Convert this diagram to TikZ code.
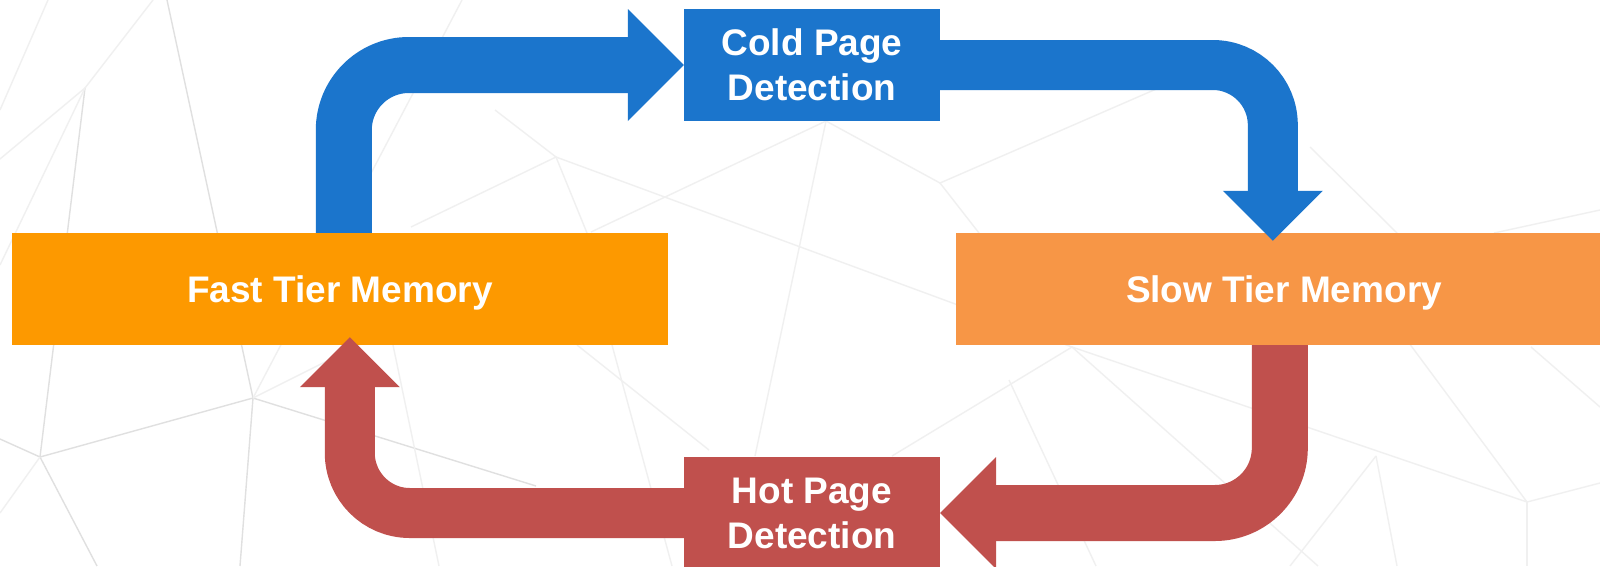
\documentclass[tikz,border=0pt]{standalone}
\usepackage{fontspec}
\setmainfont{Liberation Sans}
\usetikzlibrary{calc}
\definecolor{cblue}{RGB}{27,117,204}
\definecolor{cfast}{RGB}{253,153,0}
\definecolor{cslow}{RGB}{247,150,70}
\definecolor{cred}{RGB}{192,80,77}
\definecolor{bgA}{RGB}{224,224,224}
\definecolor{bgB}{RGB}{240,240,240}
\tikzset{
  lbl/.style={text=white, font=\bfseries\fontsize{37}{45}\selectfont, align=center, inner sep=0pt, text depth=0pt},
  membox/.style={lbl, rectangle, minimum width=656pt, minimum height=112pt},
  detbox/.style={lbl, rectangle, minimum width=256pt, minimum height=112pt},
  bgline/.style={draw=bgA, line width=1.4pt},
  bglight/.style={draw=bgB, line width=1.4pt},
  wideband/.style={line width=56pt, rounded corners=65pt},
  narrowband/.style={line width=50pt, rounded corners=60pt},
}
\begin{document}
\begin{tikzpicture}[x=1pt,y=-1pt]
\useasboundingbox (0,0) rectangle (1600,566);
\clip (0,0) rectangle (1600,566);
\fill[white] (0,0) rectangle (1600,566);
% background network
\draw[bglight] (153,0) -- (85,88) -- (0,159);
\draw[bgline] (85,88) -- (40,457);
\draw[bglight] (85,88) -- (0,265);
\draw[bglight] (48,0) -- (0,110);
\draw[bgline] (167,0) -- (253,398);
\draw[bglight] (462,0) -- (253,398);
\draw[bgline] (0,439) -- (40,457) -- (253,398);
\draw[bgline] (40,457) -- (97,566);
\draw[bglight] (40,457) -- (0,513);
\draw[bgline] (253,398) -- (240,566);
\draw[bgline] (253,398) -- (536,486);
\draw[bglight] (253,398) -- (359,345);
\draw[bglight] (393,345) -- (439,566);
\draw[bglight] (577,345) -- (709,450);
\draw[bglight] (612,345) -- (672,566);
\draw[bglight] (826,121) -- (755,456);
\draw[bglight] (826,121) -- (940,183) -- (1200,70);
\draw[bglight] (826,121) -- (591,232);
\draw[bglight] (940,183) -- (979,233);
\draw[bglight] (495,110) -- (556,157) -- (587,233);
\draw[bglight] (556,157) -- (411,227);
\draw[bglight] (556,157) -- (1072,347);
\draw[bglight] (1072,347) -- (892,456);
\draw[bglight] (1072,347) -- (1527,502) -- (1600,483);
\draw[bglight] (1072,347) -- (1318,566);
\draw[bglight] (1376,456) -- (1397,566);
\draw[bglight] (1376,456) -- (1290,566);
\draw[bglight] (1527,502) -- (1527,566);
\draw[bglight] (1409,343) -- (1527,502);
\draw[bglight] (1531,347) -- (1600,407);
\draw[bglight] (1310,147) -- (1397,233);
\draw[bglight] (1600,210) -- (1494,233);
\draw[bglight] (1009,380) -- (1096,566);
% boxes
\node[membox, fill=cfast] (fast) at (340,289) {Fast Tier Memory};
\node[membox, fill=cslow] (slow) at (1284,289) {Slow Tier Memory};
\node[detbox, fill=cblue] (cold) at (812,65) {Cold Page\\Detection};
\node[detbox, fill=cred] (hot) at (812,513) {Hot Page\\Detection};
% arrow: fast -> cold
\coordinate (s1) at ($(fast.north west)+(332,0)$);
\coordinate (h1) at ($(cold.west)+(-56,0)$);
\draw[cblue, wideband] (s1) -- (s1 |- cold.west) -- (h1);
\fill[cblue] ($(h1)+(0,-56)$) -- (cold.west) -- ($(h1)+(0,56)$) -- cycle;
% arrow: cold -> slow
\coordinate (t2) at ($(slow.north west)+(317,8)$);
\coordinate (h2) at ($(t2)+(0,-50)$);
\draw[cblue, narrowband] (cold.east) -- (t2 |- cold.east) -- (h2);
\fill[cblue] ($(h2)+(-50,0)$) -- (t2) -- ($(h2)+(50,0)$) -- cycle;
% arrow: slow -> hot
\coordinate (s3) at ($(slow.south west)+(324,0)$);
\coordinate (h3) at ($(hot.east)+(56,0)$);
\draw[cred, wideband] (s3) -- (s3 |- hot.east) -- (h3);
\fill[cred] ($(h3)+(0,-56)$) -- (hot.east) -- ($(h3)+(0,56)$) -- cycle;
% arrow: hot -> fast
\coordinate (t4) at ($(fast.south west)+(338,-8)$);
\coordinate (h4) at ($(t4)+(0,50)$);
\draw[cred, narrowband] (hot.west) -- (t4 |- hot.west) -- (h4);
\fill[cred] ($(h4)+(-50,0)$) -- (t4) -- ($(h4)+(50,0)$) -- cycle;
\end{tikzpicture}
\end{document}
